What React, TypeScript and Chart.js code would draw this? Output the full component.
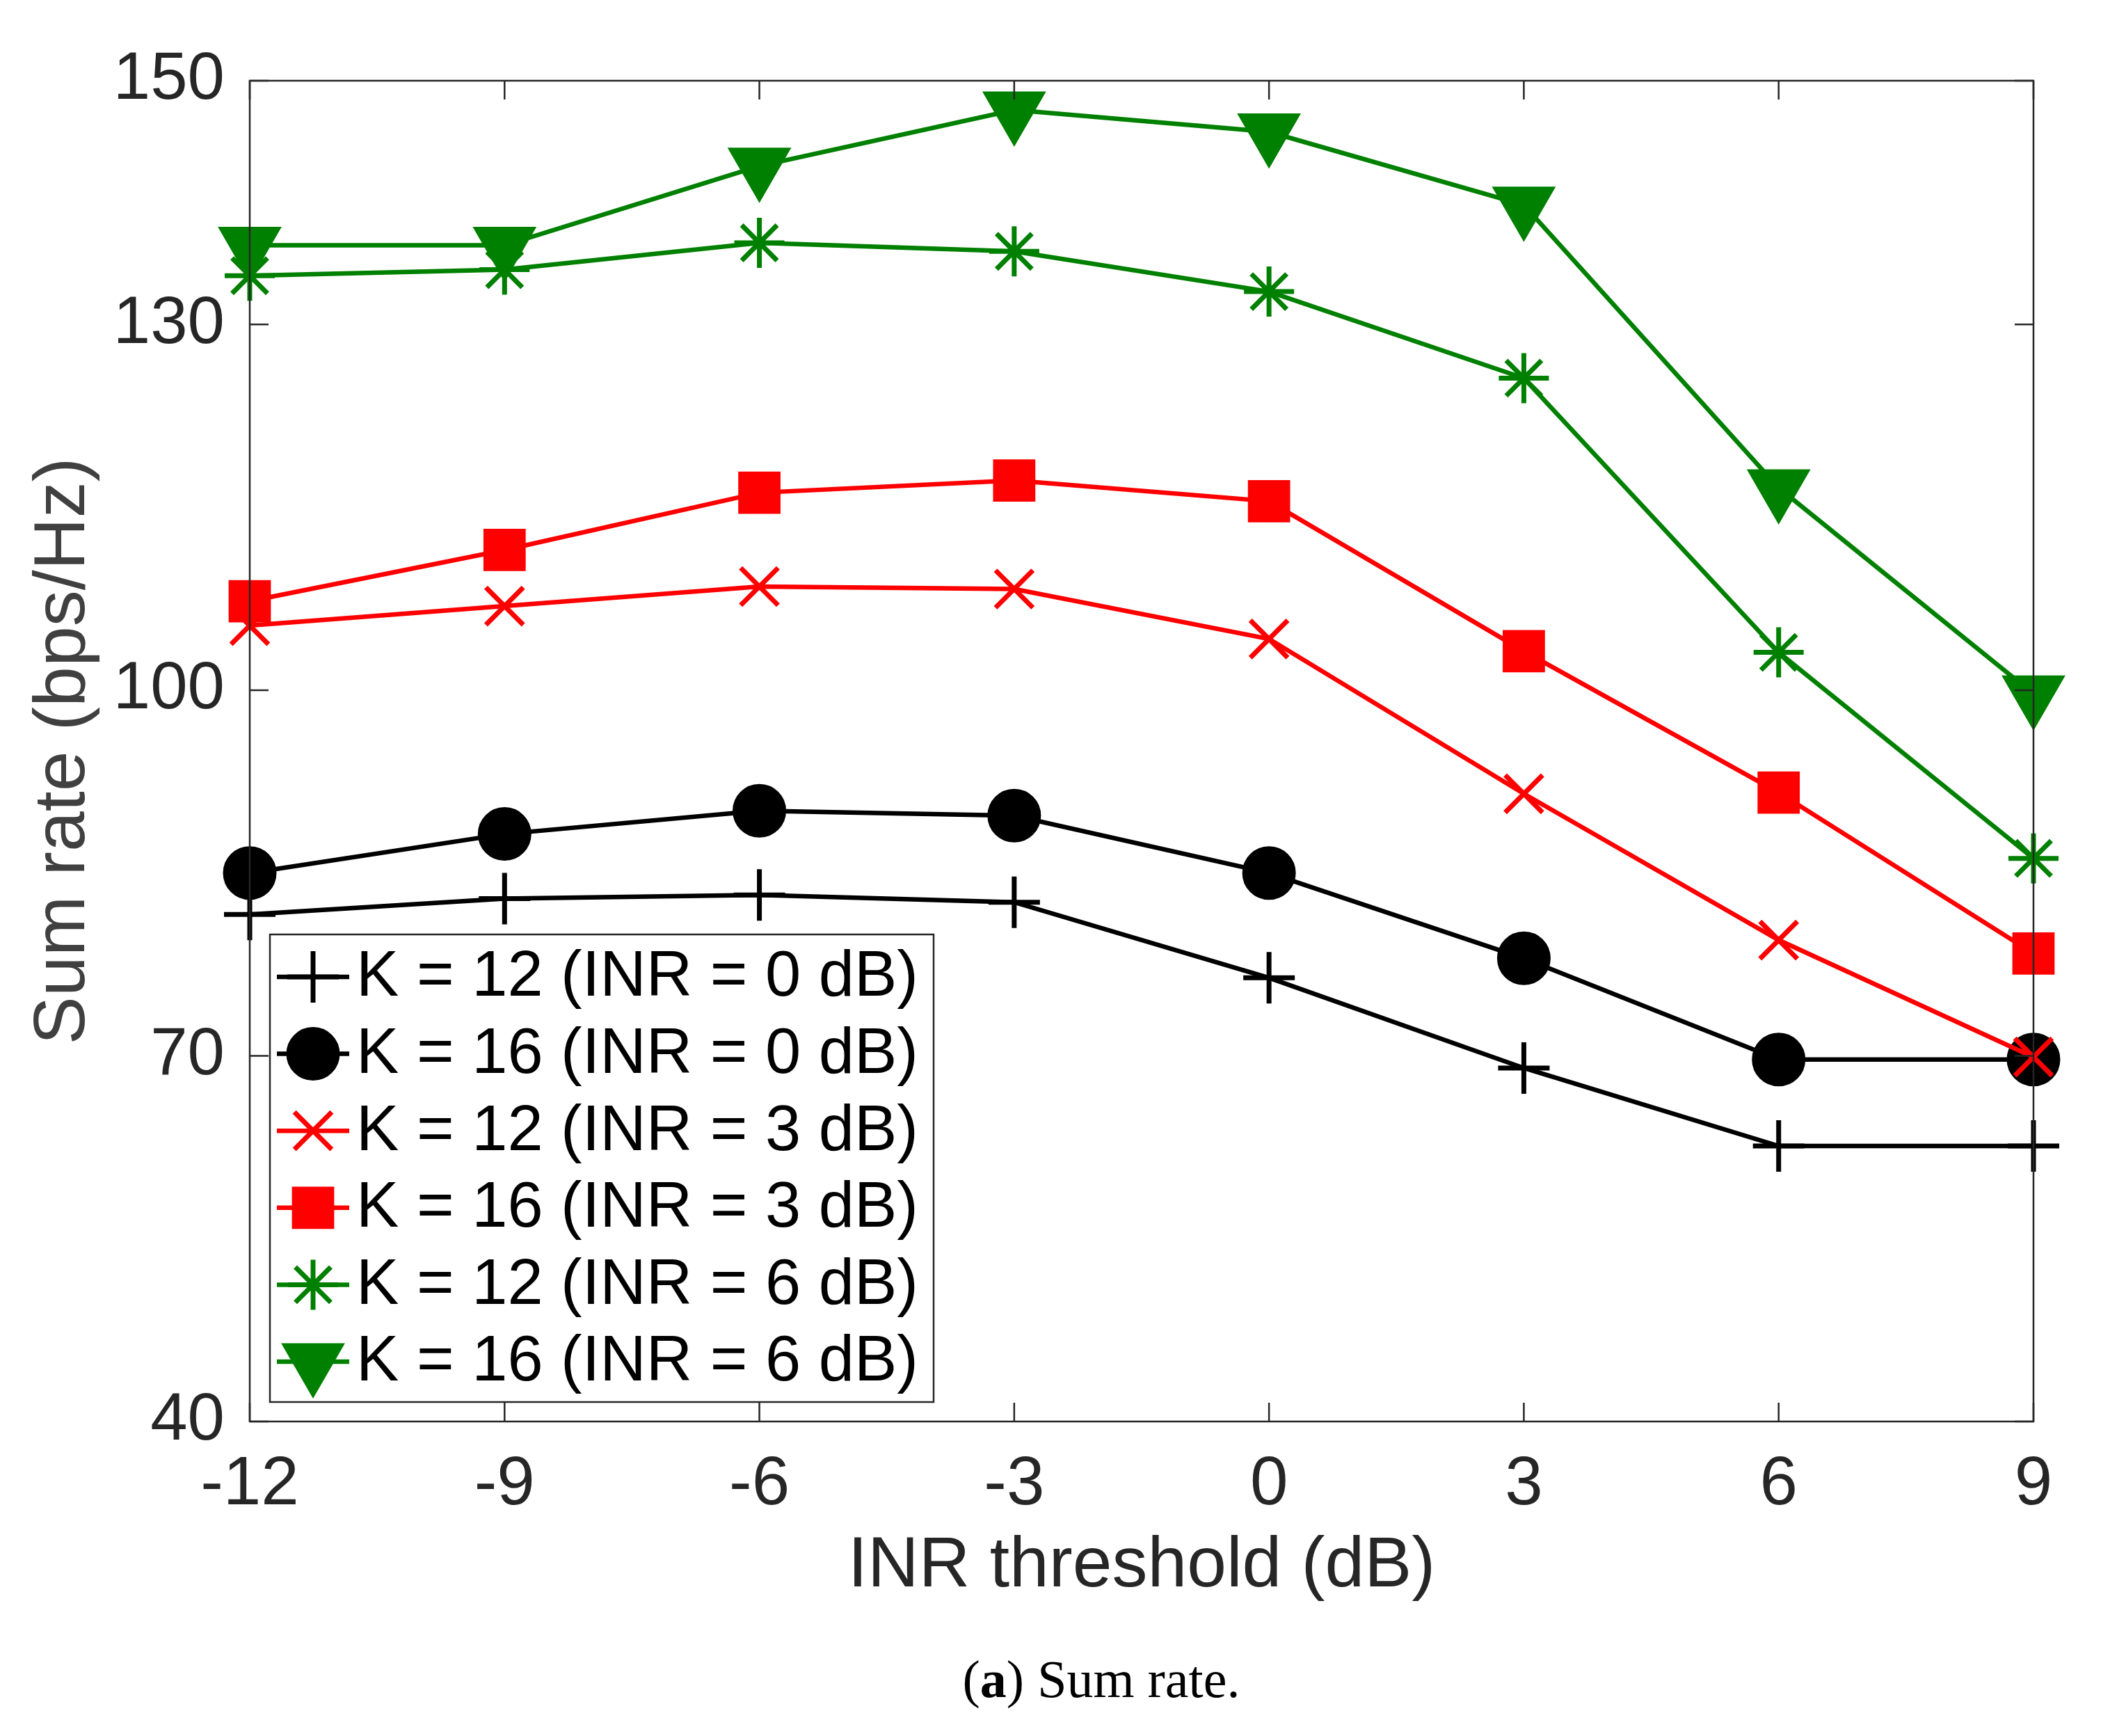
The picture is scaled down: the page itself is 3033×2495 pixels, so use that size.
import { useEffect, useRef } from 'react';
import { Chart, registerables } from 'chart.js';
import { drawPoint } from 'chart.js/helpers';

Chart.register(...registerables);

const W = 3033;
const H = 2495;

// INR threshold (dB)
const inrThreshold = [-12, -9, -6, -3, 0, 3, 6, 9];
const xTicks = [-12, -9, -6, -3, 0, 3, 6, 9];
const yTicks = [40, 70, 100, 130, 150];

// sum rate (bps/Hz)
const k12Inr0 = [81.6, 82.9, 83.2, 82.6, 76.4, 69.0, 62.6, 62.6];
const k16Inr0 = [85.0, 88.2, 90.1, 89.7, 85.0, 78.0, 69.7, 69.7];
const k12Inr3 = [105.3, 106.9, 108.5, 108.3, 104.2, 91.5, 79.5, 69.9];
const k16Inr3 = [107.3, 111.5, 116.2, 117.2, 115.5, 103.2, 91.6, 78.4];
const k12Inr6 = [134.0, 134.5, 136.7, 136.0, 132.7, 125.6, 103.1, 86.2];
const k16Inr6 = [136.5, 136.5, 143.0, 147.6, 145.8, 139.8, 116.6, 99.7];

const seriesLabels = [
  'K = 12 (INR = 0 dB)',
  'K = 16 (INR = 0 dB)',
  'K = 12 (INR = 3 dB)',
  'K = 16 (INR = 3 dB)',
  'K = 12 (INR = 6 dB)',
  'K = 16 (INR = 6 dB)',
];

const SANS = '"Liberation Sans", Arial, Helvetica, sans-serif';
const AXIS = '#262626';

const styles = [
  { color: '#000000', pointStyle: 'cross', radius: 37, rotation: 0 },
  { color: '#000000', pointStyle: 'circle', radius: 35, rotation: 0 },
  { color: '#ff0000', pointStyle: 'crossRot', radius: 38, rotation: 0 },
  { color: '#ff0000', pointStyle: 'rect', radius: 38, rotation: 0 },
  { color: '#008000', pointStyle: 'star', radius: 36, rotation: 0 },
  { color: '#008000', pointStyle: 'triangle', radius: 46, rotation: 180 },
];

const boxAndTicks = {
  id: 'boxAndTicks',
  afterDraw(chart: any) {
    const { ctx, chartArea: a, scales } = chart;
    const tl = 27;
    ctx.save();
    ctx.strokeStyle = AXIS;
    ctx.lineWidth = 2.5;
    ctx.strokeRect(a.left, a.top, a.right - a.left, a.bottom - a.top);
    ctx.beginPath();
    for (const v of xTicks) {
      const px = scales.x.getPixelForValue(v);
      ctx.moveTo(px, a.bottom);
      ctx.lineTo(px, a.bottom - tl);
      ctx.moveTo(px, a.top);
      ctx.lineTo(px, a.top + tl);
    }
    for (const v of yTicks) {
      const py = scales.y.getPixelForValue(v);
      ctx.moveTo(a.left, py);
      ctx.lineTo(a.left + tl, py);
      ctx.moveTo(a.right, py);
      ctx.lineTo(a.right - tl, py);
    }
    ctx.stroke();
    ctx.restore();
  },
};

const boxLegend = {
  id: 'boxLegend',
  afterDraw(chart: any) {
    const { ctx } = chart;
    const x0 = 388, y0 = 1343, x1 = 1342, y1 = 2015;
    ctx.save();
    ctx.fillStyle = '#ffffff';
    ctx.fillRect(x0, y0, x1 - x0, y1 - y0);
    ctx.strokeStyle = AXIS;
    ctx.lineWidth = 2.5;
    ctx.strokeRect(x0, y0, x1 - x0, y1 - y0);
    chart.data.datasets.forEach((ds: any, i: number) => {
      const y = 1404 + i * 110.6;
      ctx.strokeStyle = ds.borderColor;
      ctx.fillStyle = ds.borderColor;
      ctx.lineWidth = ds.borderWidth;
      ctx.lineJoin = 'miter';
      ctx.beginPath();
      ctx.moveTo(398, y);
      ctx.lineTo(502, y);
      ctx.stroke();
      ctx.lineWidth = ds.pointBorderWidth;
      drawPoint(ctx, {
        pointStyle: ds.pointStyle,
        radius: ds.pointRadius,
        rotation: ds.pointRotation,
        borderWidth: ds.pointBorderWidth,
      } as any, 450, y);
      ctx.fillStyle = '#000000';
      ctx.font = `92px ${SANS}`;
      ctx.textAlign = 'left';
      ctx.textBaseline = 'middle';
      ctx.fillText(ds.label, 512, y + 2);
    });
    ctx.restore();
  },
};

const caption = {
  id: 'caption',
  afterDraw(chart: any) {
    const { ctx } = chart;
    ctx.save();
    ctx.fillStyle = '#000000';
    ctx.textBaseline = 'alphabetic';
    ctx.textAlign = 'left';
    const serif = '"Liberation Serif", "Times New Roman", serif';
    const parts = [
      { t: '(', f: `76px ${serif}` },
      { t: 'a', f: `bold 76px ${serif}` },
      { t: ') Sum rate.', f: `76px ${serif}` },
    ];
    let total = 0;
    for (const p of parts) {
      ctx.font = p.f;
      total += ctx.measureText(p.t).width;
    }
    let x = 1583 - total / 2;
    for (const p of parts) {
      ctx.font = p.f;
      ctx.fillText(p.t, x, 2439);
      x += ctx.measureText(p.t).width;
    }
    ctx.restore();
  },
};

export default function App() {
  const canvasRef = useRef<HTMLCanvasElement>(null);

  useEffect(() => {
    if (!canvasRef.current) return;
    const all = [k12Inr0, k16Inr0, k12Inr3, k16Inr3, k12Inr6, k16Inr6];

    const chart = new Chart(canvasRef.current, {
      type: 'line',
      data: {
        datasets: all.map((vals, i) => ({
          label: seriesLabels[i],
          data: inrThreshold.map((x, j) => ({ x, y: vals[j] })),
          borderColor: styles[i].color,
          backgroundColor: styles[i].color,
          borderWidth: 6.5,
          pointStyle: styles[i].pointStyle as any,
          pointRadius: styles[i].radius,
          pointRotation: styles[i].rotation,
          pointBorderWidth: 7,
          pointBorderColor: styles[i].color,
          pointBackgroundColor: styles[i].color,
          pointHoverRadius: styles[i].radius,
          tension: 0,
          clip: false as any,
          order: -i,
        })),
      },
      options: {
        animation: false,
        responsive: false,
        devicePixelRatio: 1,
        events: [],
        layout: { padding: { left: 0, top: 116, right: 110, bottom: 0 } },
        plugins: {
          legend: { display: false },
          tooltip: { enabled: false },
        },
        scales: {
          x: {
            type: 'linear',
            min: -12,
            max: 9,
            afterBuildTicks: (s: any) => {
              s.ticks = xTicks.map((v) => ({ value: v }));
            },
            afterFit: (s: any) => {
              s.height = H - 2043;
            },
            grid: { display: false, drawTicks: false },
            border: { display: false },
            ticks: {
              color: AXIS,
              font: { family: SANS, size: 98 },
              padding: 33,
              maxRotation: 0,
              autoSkip: false,
            },
            title: {
              display: true,
              text: 'INR threshold (dB)',
              color: AXIS,
              font: { family: SANS, size: 102 },
              padding: { top: 0, bottom: 182 },
            },
          },
          y: {
            type: 'linear',
            min: 40,
            max: 150,
            afterBuildTicks: (s: any) => {
              s.ticks = yTicks.map((v) => ({ value: v }));
            },
            afterFit: (s: any) => {
              s.width = 359;
            },
            grid: { display: false, drawTicks: false },
            border: { display: false },
            ticks: {
              color: AXIS,
              font: { family: SANS, size: 96 },
              padding: 36,
              autoSkip: false,
            },
            title: {
              display: true,
              text: 'Sum rate (bps/Hz)',
              color: '#404040',
              font: { family: SANS, size: 104 },
              padding: { top: 30, bottom: 0 },
            },
          },
        },
      },
      plugins: [boxAndTicks, boxLegend, caption],
    });

    return () => chart.destroy();
  }, []);

  return (
    <div style={{ position: 'absolute', left: 0, top: 0, width: W, height: H, background: '#fff' }}>
      <canvas ref={canvasRef} width={W} height={H} style={{ width: W, height: H, display: 'block' }}></canvas>
    </div>
  );
}
